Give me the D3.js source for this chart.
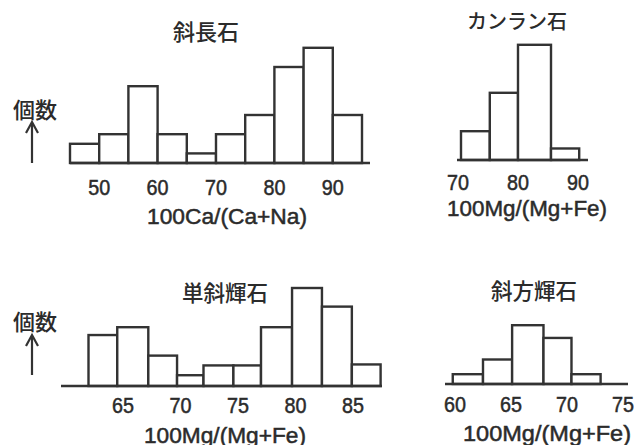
<!DOCTYPE html>
<html>
<head>
<meta charset="utf-8">
<script src="https://cdn.jsdelivr.net/npm/d3@7"></script>
<style>
  body { margin: 0; background: #fff; }
  text.tick, text.axisTitle { font-family: "Liberation Sans", Arial, sans-serif; fill: #2b2b2b; stroke: #2b2b2b; stroke-width: 0.5; }
  text.jp { font-family: "Noto Sans CJK JP", sans-serif; fill: #2b2b2b; font-weight: 500; }
</style>
</head>
<body>
<svg id="chart" width="641" height="445"></svg>
<script>
// 斜長石 (plagioclase)
const plagEdges = [45, 50, 55, 60, 65, 70, 75, 80, 85, 90, 95];
const plagCounts = [2, 3, 8, 3, 1, 3, 5, 10, 12, 5];
const plagTicks = [50, 60, 70, 80, 90];

// カンラン石 (olivine)
const olivEdges = [70.5, 75.3, 80, 85.5, 90.2];
const olivCounts = [3, 7, 12, 1.2];
const olivTicks = [70, 80, 90];

// 単斜輝石 (clinopyroxene)
const cpxEdges = [62, 64.5, 67.2, 69.7, 72, 74.6, 77, 79.7, 82.3, 84.9, 87.4];
const cpxCounts = [5.2, 6, 3.1, 1.1, 2.1, 2.1, 6, 10, 8.1, 2.2];
const cpxTicks = [65, 70, 75, 80, 85];

// 斜方輝石 (orthopyroxene)
const opxEdges = [59.8, 62.5, 65.1, 67.9, 70.4, 73];
const opxCounts = [1, 2.5, 6, 4.7, 1];
const opxTicks = [60, 65, 70, 75];

const titles = ["斜長石", "カンラン石", "単斜輝石", "斜方輝石"];
const axisTitles = ["100Ca/(Ca+Na)", "100Mg/(Mg+Fe)", "100Mg/(Mg+Fe)", "100Mg/(Mg+Fe)"];
const yLabel = "個数";

let svg = d3.select("#chart");

// layout for each panel (pixel boxes, kept apart from the data)
let panels = [
    {edges: plagEdges, counts: plagCounts, ticks: plagTicks, title: titles[0], axisTitle: axisTitles[0],
     dom: [45, 95], rng: [70, 362], line: [70, 370], base: 163, unit: 9.6, titleSize: 22,
     titleX: 206, titleY: 30, tickY: 195, axisX: 227, axisY: 224, axisW: 160},
    {edges: olivEdges, counts: olivCounts, ticks: olivTicks, title: titles[1], axisTitle: axisTitles[1],
     dom: [70, 90], rng: [458, 578], line: [457, 588], base: 160, unit: 9.6, titleSize: 20,
     titleX: 517, titleY: 20, tickY: 190, axisX: 527, axisY: 216, axisW: 160},
    {edges: cpxEdges, counts: cpxCounts, ticks: cpxTicks, title: titles[2], axisTitle: axisTitles[2],
     dom: [65, 85], rng: [123, 353], line: [61, 382], base: 386, unit: 9.8, titleSize: 21.5,
     titleX: 225, titleY: 291, tickY: 413, axisX: 225, axisY: 443, axisW: 162},
    {edges: opxEdges, counts: opxCounts, ticks: opxTicks, title: titles[3], axisTitle: axisTitles[3],
     dom: [60, 75], rng: [455, 623], line: [445, 628], base: 384, unit: 9.8, titleSize: 21.5,
     titleX: 534, titleY: 289, tickY: 412, axisX: 547, axisY: 441, axisW: 168}
];

panels.forEach(p => {
    let x = d3.scaleLinear().domain(p.dom).range(p.rng);
    let maxC = d3.max(p.counts);
    let y = d3.scaleLinear().domain([0, maxC]).range([p.base, p.base - maxC * p.unit]);

    let g = svg.append("g");

    let bins = p.counts.map((c, i) => ({x0: p.edges[i], x1: p.edges[i + 1], c: c}));

    g.selectAll("rect")
        .data(bins)
        .enter()
        .append("rect")
        .attr("x", d => x(d.x0))
        .attr("width", d => x(d.x1) - x(d.x0))
        .attr("y", d => y(d.c))
        .attr("height", d => y(0) - y(d.c))
        .attr("fill", "#fff")
        .attr("stroke", "#333")
        .attr("stroke-width", 2.4);

    // baseline
    g.append("line")
        .attr("x1", p.line[0]).attr("x2", p.line[1])
        .attr("y1", y(0)).attr("y2", y(0))
        .attr("stroke", "#333")
        .attr("stroke-width", 2.6);

    // tick labels (no tick marks in the original)
    g.selectAll("text.tick")
        .data(p.ticks)
        .enter()
        .append("text")
        .attr("class", "tick")
        .attr("x", d => x(d))
        .attr("y", p.tickY)
        .attr("text-anchor", "middle")
        .attr("font-size", 22)
        .attr("textLength", 22)
        .attr("lengthAdjust", "spacingAndGlyphs")
        .text(d => d);

    g.append("text")
        .attr("class", "axisTitle")
        .attr("x", p.axisX)
        .attr("y", p.axisY)
        .attr("text-anchor", "middle")
        .attr("font-size", 22)
        .attr("textLength", p.axisW)
        .attr("lengthAdjust", "spacingAndGlyphs")
        .text(p.axisTitle);

    g.append("text")
        .attr("class", "jp")
        .attr("x", p.titleX)
        .attr("y", p.titleY)
        .attr("text-anchor", "middle")
        .attr("dominant-baseline", "central")
        .attr("font-size", p.titleSize)
        .text(p.title);
});

// 個数 with an up arrow, for both rows
[{ty: 108, a0: 163, a1: 122}, {ty: 320, a0: 375, a1: 335}].forEach(r => {
    svg.append("text")
        .attr("class", "jp")
        .attr("x", 35)
        .attr("y", r.ty)
        .attr("text-anchor", "middle")
        .attr("dominant-baseline", "central")
        .attr("font-size", 22)
        .attr("font-weight", 700)
        .text(yLabel);
    svg.append("line")
        .attr("x1", 32).attr("x2", 32)
        .attr("y1", r.a0).attr("y2", r.a1 + 1)
        .attr("stroke", "#333").attr("stroke-width", 2.2);
    svg.append("path")
        .attr("d", d3.line()([[26, r.a1 + 11], [32, r.a1], [38, r.a1 + 11]]))
        .attr("fill", "none")
        .attr("stroke", "#333").attr("stroke-width", 2.2);
});
</script>
</body>
</html>
